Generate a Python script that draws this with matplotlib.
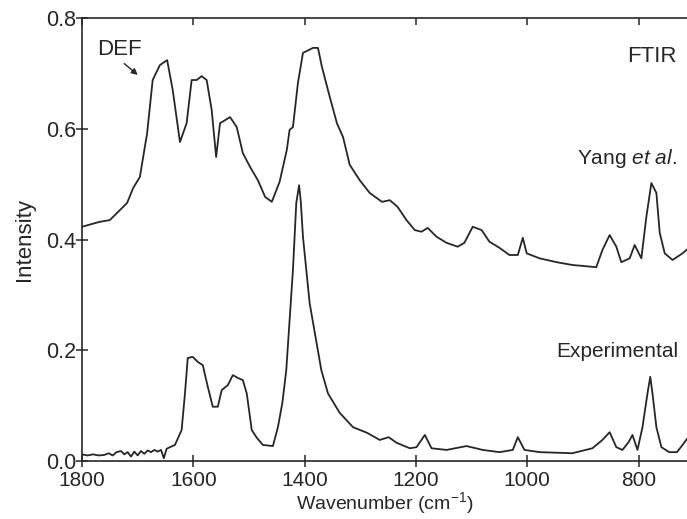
import matplotlib
matplotlib.use("Agg")
import matplotlib.pyplot as plt

plt.rcParams["font.family"] = ["Liberation Sans", "DejaVu Sans"]
plt.rcParams["mathtext.fontset"] = "custom"
plt.rcParams["mathtext.rm"] = "Liberation Sans"
plt.rcParams["mathtext.it"] = "Liberation Sans:italic"

INK = "#262626"

# FTIR spectrum after Yang et al. (wavenumber in cm^-1, intensity)
yang_wn = [1800, 1768, 1750, 1719, 1708, 1696, 1683, 1673, 1660, 1647, 1637, 1624,
           1612, 1603, 1594, 1585, 1576, 1567, 1559, 1552, 1534, 1522, 1511, 1498,
           1484, 1471, 1459, 1445, 1432, 1427, 1421, 1412, 1403, 1385, 1376, 1369,
           1355, 1342, 1331, 1319, 1301, 1283, 1261, 1247, 1233, 1217, 1202, 1190,
           1179, 1163, 1145, 1125, 1113, 1098, 1082, 1068, 1050, 1032, 1017, 1008,
           1001, 978, 947, 919, 876, 865, 852, 840, 831, 816, 807, 795, 786, 777,
           768, 762, 753, 739, 721, 713]
yang_int = [0.423, 0.432, 0.435, 0.466, 0.493, 0.513, 0.592, 0.688, 0.715, 0.724, 0.670, 0.576,
            0.610, 0.688, 0.688, 0.695, 0.688, 0.634, 0.549, 0.610, 0.621, 0.603, 0.556, 0.531,
            0.507, 0.477, 0.468, 0.504, 0.562, 0.598, 0.603, 0.683, 0.737, 0.746, 0.746, 0.712,
            0.658, 0.610, 0.585, 0.535, 0.507, 0.484, 0.468, 0.471, 0.459, 0.435, 0.417, 0.414,
            0.421, 0.405, 0.394, 0.387, 0.394, 0.423, 0.417, 0.396, 0.385, 0.372, 0.372, 0.403,
            0.375, 0.366, 0.359, 0.354, 0.350, 0.381, 0.408, 0.387, 0.359, 0.366, 0.390, 0.366, 0.441, 0.502,
            0.484, 0.412, 0.375, 0.363, 0.375, 0.382]

# measured FTIR spectrum
exp_wn = [1800, 1790, 1780, 1770, 1760, 1752, 1745, 1738, 1730, 1724, 1718, 1712,
          1706, 1700, 1694, 1688, 1682, 1676, 1670, 1664, 1658, 1653, 1648, 1642,
          1633, 1621, 1615, 1610, 1601, 1592, 1583, 1574, 1565, 1556, 1549, 1538,
          1529, 1520, 1511, 1504, 1495, 1486, 1475, 1457, 1448, 1440, 1433, 1421,
          1415, 1410, 1407, 1403, 1391, 1370, 1358, 1337, 1313, 1288, 1265, 1249, 1235,
          1211, 1199, 1184, 1172, 1145, 1109, 1080, 1050, 1026, 1017, 1005, 978,
          919, 883, 865, 852, 840, 829, 818, 811, 802, 793, 784, 779, 775, 768,
          759, 745, 731, 721, 713]
exp_int = [0.012, 0.010, 0.012, 0.010, 0.011, 0.014, 0.010, 0.016, 0.018, 0.012, 0.016, 0.008,
           0.017, 0.010, 0.018, 0.013, 0.019, 0.016, 0.020, 0.017, 0.020, 0.005, 0.022, 0.025,
           0.029, 0.056, 0.122, 0.186, 0.188, 0.179, 0.173, 0.134, 0.098, 0.098, 0.128, 0.137,
           0.155, 0.150, 0.146, 0.122, 0.056, 0.042, 0.029, 0.027, 0.061, 0.105, 0.164, 0.345,
           0.466, 0.498, 0.470, 0.405, 0.285, 0.164, 0.122, 0.087, 0.061, 0.051, 0.038, 0.043, 0.033,
           0.023, 0.025, 0.047, 0.023, 0.020, 0.027, 0.020, 0.016, 0.020, 0.043, 0.020, 0.016,
           0.014, 0.023, 0.038, 0.052, 0.025, 0.020, 0.034, 0.047, 0.020, 0.061, 0.122, 0.152, 0.122, 0.061,
           0.025, 0.016, 0.016, 0.029, 0.040]

x_ticks = [1800, 1600, 1400, 1200, 1000, 800]
y_ticks = [0.0, 0.2, 0.4, 0.6, 0.8]

fig = plt.figure(figsize=(6.87, 5.19), dpi=100)
ax = fig.add_axes([82 / 687, 58 / 519, 605 / 687, 443 / 519])

ax.plot(yang_wn, yang_int, color=INK, lw=1.3)
ax.plot(exp_wn, exp_int, color=INK, lw=1.3)

ax.set_xlim(1800, 713)
ax.set_ylim(0, 0.8)
ax.set_xticks(x_ticks)
ax.set_yticks(y_ticks)
ax.set_yticklabels([f"{v:.1f}" for v in y_ticks])

for s in ("left", "bottom", "top"):
    ax.spines[s].set_linewidth(1.2)
    ax.spines[s].set_color(INK)
ax.spines["right"].set_visible(False)

ax.tick_params(axis="both", direction="inout", length=8, width=1.1, color=INK,
               labelsize=15, labelcolor=INK)
ax.tick_params(axis="y", pad=0, labelsize=15.5)
ax.tick_params(axis="x", top=True, pad=3)
for t in ax.xaxis.get_major_ticks():
    t.tick2line.set_marker(3)  # tick pointing down from the top spine
    t.tick2line.set_markersize(5)

ax.set_xlabel("Wavenumber (cm$^{-1}$)", fontsize=14, color=INK, labelpad=0)
ax.set_ylabel("Intensity", fontsize=16, color=INK, labelpad=8)

ax.text(1773, 0.733, "DEF", fontsize=16, color=INK, ha="left", va="baseline")
ax.annotate("", xy=(1696, 0.694), xytext=(1728, 0.721),
            arrowprops=dict(arrowstyle="-|>", color=INK, lw=1.0, mutation_scale=9))
ax.text(732, 0.721, "FTIR", fontsize=16, color=INK, ha="right", va="baseline")
ax.text(732, 0.536, r"Yang $\mathit{et\ al.}$", fontsize=15, color=INK, ha="right", va="baseline")
ax.text(729, 0.188, "Experimental", fontsize=15, color=INK, ha="right", va="baseline")

fig.savefig("out.png", dpi=100)
